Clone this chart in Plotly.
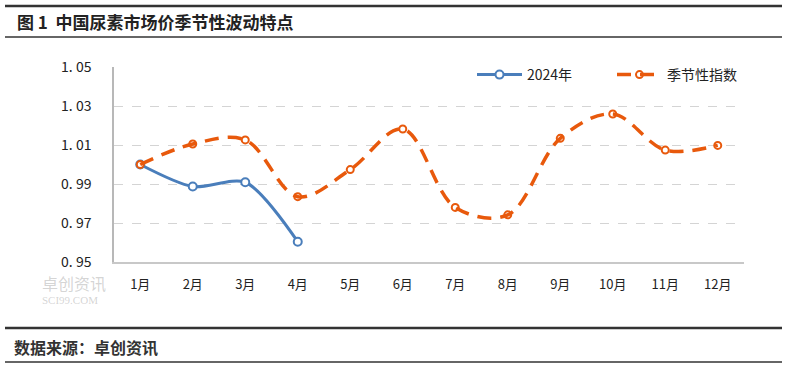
import plotly.graph_objects as go

months = ["1月", "2月", "3月", "4月", "5月", "6月", "7月", "8月", "9月", "10月", "11月", "12月"]
y2024 = [1.000, 0.9887, 0.9909, 0.9604]
seasonal = [1.000, 1.0105, 1.0126, 0.9835, 0.9974, 1.0182, 0.9780, 0.9742, 1.0134, 1.0259, 1.0074, 1.0098]
yticks = [0.95, 0.97, 0.99, 1.01, 1.03, 1.05]
yticktext = ["0. 95", "0. 97", "0. 99", "1. 01", "1. 03", "1. 05"]

xs = list(range(len(months)))
font = "Noto Sans CJK SC"

fig = go.Figure()
fig.add_trace(go.Scatter(
    x=xs[:len(y2024)], y=y2024, name="2024年", mode="lines+markers",
    line=dict(color="#4a7ebb", width=3, shape="spline", smoothing=0.8),
    marker=dict(symbol="circle", size=8, color="white", line=dict(color="#4a7ebb", width=2)),
))
fig.add_trace(go.Scatter(
    x=xs, y=seasonal, name="季节性指数", mode="lines+markers",
    line=dict(color="#e8590c", width=3.5, shape="spline", smoothing=1.0, dash="14px,9px"),
    marker=dict(symbol="circle-open", size=7, color="#e8590c", line=dict(width=2)),
))

fig.update_layout(
    width=786, height=366,
    margin=dict(l=114, r=42, t=67, b=104, autoexpand=False),
    paper_bgcolor="white", plot_bgcolor="white",
    font=dict(family=font, size=12, color="#222"),
    showlegend=True,
    legend=dict(orientation="h", x=(472 - 114) / 630, y=1 - (75 - 67) / 195, xanchor="left", yanchor="middle",
                font=dict(size=14, color="#222"), bgcolor="rgba(0,0,0,0)",
                itemwidth=45, entrywidth=80, entrywidthmode="pixels", traceorder="normal"),
    xaxis=dict(range=[-0.5, 11.5], tickmode="array", tickvals=xs, ticktext=months,
               showgrid=False, showline=True, linecolor="#c8c8c8", linewidth=1.5,
               ticks="", tickfont=dict(size=13, color="#222"), ticklabelstandoff=10, zeroline=False),
    yaxis=dict(range=[0.95, 1.05], tickmode="array", tickvals=yticks, ticktext=yticktext,
               showgrid=True, gridcolor="#d4d4d4", griddash="dash", gridwidth=1,
               showline=True, linecolor="#b8b8b8", linewidth=1.5,
               ticks="", tickfont=dict(size=14, color="#222"), ticklabelstandoff=18, zeroline=False),
)

def px_x(x):
    return (x - 114) / 630

def px_y(y):
    return 1 - (y - 67) / 195

# title and source
fig.add_annotation(xref="paper", yref="paper", x=px_x(15), y=px_y(22),
                   text="<b>图 1  中国尿素市场价季节性波动特点</b>", showarrow=False,
                   xanchor="left", yanchor="middle", font=dict(size=17, color="#222"))
fig.add_annotation(xref="paper", yref="paper", x=px_x(12), y=px_y(347),
                   text="<b>数据来源：卓创资讯</b>", showarrow=False,
                   xanchor="left", yanchor="middle", font=dict(size=16, color="#333"))
# watermark
fig.add_annotation(xref="paper", yref="paper", x=px_x(40), y=px_y(283),
                   text="卓创资讯", showarrow=False, xanchor="left", yanchor="middle",
                   font=dict(size=16, color="rgba(160,160,160,0.45)"))
fig.add_annotation(xref="paper", yref="paper", x=px_x(40), y=px_y(300),
                   text="SCI99.COM", showarrow=False, xanchor="left", yanchor="middle",
                   font=dict(size=11, color="rgba(160,160,160,0.45)", family="Liberation Serif"))

lines = [(6, 2.5), (37, 1.5), (328, 2.5), (362, 1.5)]
for yy, w in lines:
    fig.add_shape(type="line", xref="paper", yref="paper",
                  x0=px_x(5), x1=px_x(782), y0=px_y(yy), y1=px_y(yy),
                  line=dict(color="#333", width=w))

fig.write_html("out.html")
